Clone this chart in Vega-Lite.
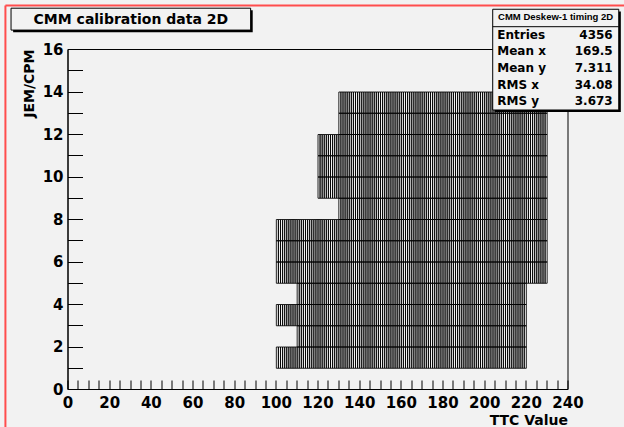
{
"$schema": "https://vega.github.io/schema/vega-lite/v6.json",
"width": 500, "height": 340,
"autosize": "none",
"padding": {"left": 67.5, "top": 49, "right": 56.5, "bottom": 38},
"background": "#f2f2f2",
"config": {
 "view": {"stroke": "#000", "strokeWidth": 1, "fill": "#f2f2f2"},
 "axis": {"domainColor": "#000", "tickColor": "#000", "labelColor": "#000", "titleColor": "#000", "grid": false,
  "labelFont": "DejaVu Sans", "labelFontWeight": "bold", "labelFontSize": 15,
  "titleFont": "DejaVu Sans", "titleFontWeight": "bold", "titleFontSize": 14,
  "labelOverlap": false, "labelFlush": false, "titleAnchor": "end"}
},
"layer": [
 {
  "data": {"values": "x,y\n100,1\n101,1\n102,1\n103,1\n104,1\n105,1\n106,1\n107,1\n108,1\n109,1\n110,1\n111,1\n112,1\n113,1\n114,1\n115,1\n116,1\n117,1\n118,1\n119,1\n120,1\n121,1\n122,1\n123,1\n124,1\n125,1\n126,1\n127,1\n128,1\n129,1\n130,1\n131,1\n132,1\n133,1\n134,1\n135,1\n136,1\n137,1\n138,1\n139,1\n140,1\n141,1\n142,1\n143,1\n144,1\n145,1\n146,1\n147,1\n148,1\n149,1\n150,1\n151,1\n152,1\n153,1\n154,1\n155,1\n156,1\n157,1\n158,1\n159,1\n160,1\n161,1\n162,1\n163,1\n164,1\n165,1\n166,1\n167,1\n168,1\n169,1\n170,1\n171,1\n172,1\n173,1\n174,1\n175,1\n176,1\n177,1\n178,1\n179,1\n180,1\n181,1\n182,1\n183,1\n184,1\n185,1\n186,1\n187,1\n188,1\n189,1\n190,1\n191,1\n192,1\n193,1\n194,1\n195,1\n196,1\n197,1\n198,1\n199,1\n200,1\n201,1\n202,1\n203,1\n204,1\n205,1\n206,1\n207,1\n208,1\n209,1\n210,1\n211,1\n212,1\n213,1\n214,1\n215,1\n216,1\n217,1\n218,1\n219,1\n110,2\n111,2\n112,2\n113,2\n114,2\n115,2\n116,2\n117,2\n118,2\n119,2\n120,2\n121,2\n122,2\n123,2\n124,2\n125,2\n126,2\n127,2\n128,2\n129,2\n130,2\n131,2\n132,2\n133,2\n134,2\n135,2\n136,2\n137,2\n138,2\n139,2\n140,2\n141,2\n142,2\n143,2\n144,2\n145,2\n146,2\n147,2\n148,2\n149,2\n150,2\n151,2\n152,2\n153,2\n154,2\n155,2\n156,2\n157,2\n158,2\n159,2\n160,2\n161,2\n162,2\n163,2\n164,2\n165,2\n166,2\n167,2\n168,2\n169,2\n170,2\n171,2\n172,2\n173,2\n174,2\n175,2\n176,2\n177,2\n178,2\n179,2\n180,2\n181,2\n182,2\n183,2\n184,2\n185,2\n186,2\n187,2\n188,2\n189,2\n190,2\n191,2\n192,2\n193,2\n194,2\n195,2\n196,2\n197,2\n198,2\n199,2\n200,2\n201,2\n202,2\n203,2\n204,2\n205,2\n206,2\n207,2\n208,2\n209,2\n210,2\n211,2\n212,2\n213,2\n214,2\n215,2\n216,2\n217,2\n218,2\n219,2\n100,3\n101,3\n102,3\n103,3\n104,3\n105,3\n106,3\n107,3\n108,3\n109,3\n110,3\n111,3\n112,3\n113,3\n114,3\n115,3\n116,3\n117,3\n118,3\n119,3\n120,3\n121,3\n122,3\n123,3\n124,3\n125,3\n126,3\n127,3\n128,3\n129,3\n130,3\n131,3\n132,3\n133,3\n134,3\n135,3\n136,3\n137,3\n138,3\n139,3\n140,3\n141,3\n142,3\n143,3\n144,3\n145,3\n146,3\n147,3\n148,3\n149,3\n150,3\n151,3\n152,3\n153,3\n154,3\n155,3\n156,3\n157,3\n158,3\n159,3\n160,3\n161,3\n162,3\n163,3\n164,3\n165,3\n166,3\n167,3\n168,3\n169,3\n170,3\n171,3\n172,3\n173,3\n174,3\n175,3\n176,3\n177,3\n178,3\n179,3\n180,3\n181,3\n182,3\n183,3\n184,3\n185,3\n186,3\n187,3\n188,3\n189,3\n190,3\n191,3\n192,3\n193,3\n194,3\n195,3\n196,3\n197,3\n198,3\n199,3\n200,3\n201,3\n202,3\n203,3\n204,3\n205,3\n206,3\n207,3\n208,3\n209,3\n210,3\n211,3\n212,3\n213,3\n214,3\n215,3\n216,3\n217,3\n218,3\n219,3\n110,4\n111,4\n112,4\n113,4\n114,4\n115,4\n116,4\n117,4\n118,4\n119,4\n120,4\n121,4\n122,4\n123,4\n124,4\n125,4\n126,4\n127,4\n128,4\n129,4\n130,4\n131,4\n132,4\n133,4\n134,4\n135,4\n136,4\n137,4\n138,4\n139,4\n140,4\n141,4\n142,4\n143,4\n144,4\n145,4\n146,4\n147,4\n148,4\n149,4\n150,4\n151,4\n152,4\n153,4\n154,4\n155,4\n156,4\n157,4\n158,4\n159,4\n160,4\n161,4\n162,4\n163,4\n164,4\n165,4\n166,4\n167,4\n168,4\n169,4\n170,4\n171,4\n172,4\n173,4\n174,4\n175,4\n176,4\n177,4\n178,4\n179,4\n180,4\n181,4\n182,4\n183,4\n184,4\n185,4\n186,4\n187,4\n188,4\n189,4\n190,4\n191,4\n192,4\n193,4\n194,4\n195,4\n196,4\n197,4\n198,4\n199,4\n200,4\n201,4\n202,4\n203,4\n204,4\n205,4\n206,4\n207,4\n208,4\n209,4\n210,4\n211,4\n212,4\n213,4\n214,4\n215,4\n216,4\n217,4\n218,4\n219,4\n100,5\n101,5\n102,5\n103,5\n104,5\n105,5\n106,5\n107,5\n108,5\n109,5\n110,5\n111,5\n112,5\n113,5\n114,5\n115,5\n116,5\n117,5\n118,5\n119,5\n120,5\n121,5\n122,5\n123,5\n124,5\n125,5\n126,5\n127,5\n128,5\n129,5\n130,5\n131,5\n132,5\n133,5\n134,5\n135,5\n136,5\n137,5\n138,5\n139,5\n140,5\n141,5\n142,5\n143,5\n144,5\n145,5\n146,5\n147,5\n148,5\n149,5\n150,5\n151,5\n152,5\n153,5\n154,5\n155,5\n156,5\n157,5\n158,5\n159,5\n160,5\n161,5\n162,5\n163,5\n164,5\n165,5\n166,5\n167,5\n168,5\n169,5\n170,5\n171,5\n172,5\n173,5\n174,5\n175,5\n176,5\n177,5\n178,5\n179,5\n180,5\n181,5\n182,5\n183,5\n184,5\n185,5\n186,5\n187,5\n188,5\n189,5\n190,5\n191,5\n192,5\n193,5\n194,5\n195,5\n196,5\n197,5\n198,5\n199,5\n200,5\n201,5\n202,5\n203,5\n204,5\n205,5\n206,5\n207,5\n208,5\n209,5\n210,5\n211,5\n212,5\n213,5\n214,5\n215,5\n216,5\n217,5\n218,5\n219,5\n220,5\n221,5\n222,5\n223,5\n224,5\n225,5\n226,5\n227,5\n228,5\n229,5\n100,6\n101,6\n102,6\n103,6\n104,6\n105,6\n106,6\n107,6\n108,6\n109,6\n110,6\n111,6\n112,6\n113,6\n114,6\n115,6\n116,6\n117,6\n118,6\n119,6\n120,6\n121,6\n122,6\n123,6\n124,6\n125,6\n126,6\n127,6\n128,6\n129,6\n130,6\n131,6\n132,6\n133,6\n134,6\n135,6\n136,6\n137,6\n138,6\n139,6\n140,6\n141,6\n142,6\n143,6\n144,6\n145,6\n146,6\n147,6\n148,6\n149,6\n150,6\n151,6\n152,6\n153,6\n154,6\n155,6\n156,6\n157,6\n158,6\n159,6\n160,6\n161,6\n162,6\n163,6\n164,6\n165,6\n166,6\n167,6\n168,6\n169,6\n170,6\n171,6\n172,6\n173,6\n174,6\n175,6\n176,6\n177,6\n178,6\n179,6\n180,6\n181,6\n182,6\n183,6\n184,6\n185,6\n186,6\n187,6\n188,6\n189,6\n190,6\n191,6\n192,6\n193,6\n194,6\n195,6\n196,6\n197,6\n198,6\n199,6\n200,6\n201,6\n202,6\n203,6\n204,6\n205,6\n206,6\n207,6\n208,6\n209,6\n210,6\n211,6\n212,6\n213,6\n214,6\n215,6\n216,6\n217,6\n218,6\n219,6\n220,6\n221,6\n222,6\n223,6\n224,6\n225,6\n226,6\n227,6\n228,6\n229,6\n100,7\n101,7\n102,7\n103,7\n104,7\n105,7\n106,7\n107,7\n108,7\n109,7\n110,7\n111,7\n112,7\n113,7\n114,7\n115,7\n116,7\n117,7\n118,7\n119,7\n120,7\n121,7\n122,7\n123,7\n124,7\n125,7\n126,7\n127,7\n128,7\n129,7\n130,7\n131,7\n132,7\n133,7\n134,7\n135,7\n136,7\n137,7\n138,7\n139,7\n140,7\n141,7\n142,7\n143,7\n144,7\n145,7\n146,7\n147,7\n148,7\n149,7\n150,7\n151,7\n152,7\n153,7\n154,7\n155,7\n156,7\n157,7\n158,7\n159,7\n160,7\n161,7\n162,7\n163,7\n164,7\n165,7\n166,7\n167,7\n168,7\n169,7\n170,7\n171,7\n172,7\n173,7\n174,7\n175,7\n176,7\n177,7\n178,7\n179,7\n180,7\n181,7\n182,7\n183,7\n184,7\n185,7\n186,7\n187,7\n188,7\n189,7\n190,7\n191,7\n192,7\n193,7\n194,7\n195,7\n196,7\n197,7\n198,7\n199,7\n200,7\n201,7\n202,7\n203,7\n204,7\n205,7\n206,7\n207,7\n208,7\n209,7\n210,7\n211,7\n212,7\n213,7\n214,7\n215,7\n216,7\n217,7\n218,7\n219,7\n220,7\n221,7\n222,7\n223,7\n224,7\n225,7\n226,7\n227,7\n228,7\n229,7\n130,8\n131,8\n132,8\n133,8\n134,8\n135,8\n136,8\n137,8\n138,8\n139,8\n140,8\n141,8\n142,8\n143,8\n144,8\n145,8\n146,8\n147,8\n148,8\n149,8\n150,8\n151,8\n152,8\n153,8\n154,8\n155,8\n156,8\n157,8\n158,8\n159,8\n160,8\n161,8\n162,8\n163,8\n164,8\n165,8\n166,8\n167,8\n168,8\n169,8\n170,8\n171,8\n172,8\n173,8\n174,8\n175,8\n176,8\n177,8\n178,8\n179,8\n180,8\n181,8\n182,8\n183,8\n184,8\n185,8\n186,8\n187,8\n188,8\n189,8\n190,8\n191,8\n192,8\n193,8\n194,8\n195,8\n196,8\n197,8\n198,8\n199,8\n200,8\n201,8\n202,8\n203,8\n204,8\n205,8\n206,8\n207,8\n208,8\n209,8\n210,8\n211,8\n212,8\n213,8\n214,8\n215,8\n216,8\n217,8\n218,8\n219,8\n220,8\n221,8\n222,8\n223,8\n224,8\n225,8\n226,8\n227,8\n228,8\n229,8\n120,9\n121,9\n122,9\n123,9\n124,9\n125,9\n126,9\n127,9\n128,9\n129,9\n130,9\n131,9\n132,9\n133,9\n134,9\n135,9\n136,9\n137,9\n138,9\n139,9\n140,9\n141,9\n142,9\n143,9\n144,9\n145,9\n146,9\n147,9\n148,9\n149,9\n150,9\n151,9\n152,9\n153,9\n154,9\n155,9\n156,9\n157,9\n158,9\n159,9\n160,9\n161,9\n162,9\n163,9\n164,9\n165,9\n166,9\n167,9\n168,9\n169,9\n170,9\n171,9\n172,9\n173,9\n174,9\n175,9\n176,9\n177,9\n178,9\n179,9\n180,9\n181,9\n182,9\n183,9\n184,9\n185,9\n186,9\n187,9\n188,9\n189,9\n190,9\n191,9\n192,9\n193,9\n194,9\n195,9\n196,9\n197,9\n198,9\n199,9\n200,9\n201,9\n202,9\n203,9\n204,9\n205,9\n206,9\n207,9\n208,9\n209,9\n210,9\n211,9\n212,9\n213,9\n214,9\n215,9\n216,9\n217,9\n218,9\n219,9\n220,9\n221,9\n222,9\n223,9\n224,9\n225,9\n226,9\n227,9\n228,9\n229,9\n120,10\n121,10\n122,10\n123,10\n124,10\n125,10\n126,10\n127,10\n128,10\n129,10\n130,10\n131,10\n132,10\n133,10\n134,10\n135,10\n136,10\n137,10\n138,10\n139,10\n140,10\n141,10\n142,10\n143,10\n144,10\n145,10\n146,10\n147,10\n148,10\n149,10\n150,10\n151,10\n152,10\n153,10\n154,10\n155,10\n156,10\n157,10\n158,10\n159,10\n160,10\n161,10\n162,10\n163,10\n164,10\n165,10\n166,10\n167,10\n168,10\n169,10\n170,10\n171,10\n172,10\n173,10\n174,10\n175,10\n176,10\n177,10\n178,10\n179,10\n180,10\n181,10\n182,10\n183,10\n184,10\n185,10\n186,10\n187,10\n188,10\n189,10\n190,10\n191,10\n192,10\n193,10\n194,10\n195,10\n196,10\n197,10\n198,10\n199,10\n200,10\n201,10\n202,10\n203,10\n204,10\n205,10\n206,10\n207,10\n208,10\n209,10\n210,10\n211,10\n212,10\n213,10\n214,10\n215,10\n216,10\n217,10\n218,10\n219,10\n220,10\n221,10\n222,10\n223,10\n224,10\n225,10\n226,10\n227,10\n228,10\n229,10\n120,11\n121,11\n122,11\n123,11\n124,11\n125,11\n126,11\n127,11\n128,11\n129,11\n130,11\n131,11\n132,11\n133,11\n134,11\n135,11\n136,11\n137,11\n138,11\n139,11\n140,11\n141,11\n142,11\n143,11\n144,11\n145,11\n146,11\n147,11\n148,11\n149,11\n150,11\n151,11\n152,11\n153,11\n154,11\n155,11\n156,11\n157,11\n158,11\n159,11\n160,11\n161,11\n162,11\n163,11\n164,11\n165,11\n166,11\n167,11\n168,11\n169,11\n170,11\n171,11\n172,11\n173,11\n174,11\n175,11\n176,11\n177,11\n178,11\n179,11\n180,11\n181,11\n182,11\n183,11\n184,11\n185,11\n186,11\n187,11\n188,11\n189,11\n190,11\n191,11\n192,11\n193,11\n194,11\n195,11\n196,11\n197,11\n198,11\n199,11\n200,11\n201,11\n202,11\n203,11\n204,11\n205,11\n206,11\n207,11\n208,11\n209,11\n210,11\n211,11\n212,11\n213,11\n214,11\n215,11\n216,11\n217,11\n218,11\n219,11\n220,11\n221,11\n222,11\n223,11\n224,11\n225,11\n226,11\n227,11\n228,11\n229,11\n130,12\n131,12\n132,12\n133,12\n134,12\n135,12\n136,12\n137,12\n138,12\n139,12\n140,12\n141,12\n142,12\n143,12\n144,12\n145,12\n146,12\n147,12\n148,12\n149,12\n150,12\n151,12\n152,12\n153,12\n154,12\n155,12\n156,12\n157,12\n158,12\n159,12\n160,12\n161,12\n162,12\n163,12\n164,12\n165,12\n166,12\n167,12\n168,12\n169,12\n170,12\n171,12\n172,12\n173,12\n174,12\n175,12\n176,12\n177,12\n178,12\n179,12\n180,12\n181,12\n182,12\n183,12\n184,12\n185,12\n186,12\n187,12\n188,12\n189,12\n190,12\n191,12\n192,12\n193,12\n194,12\n195,12\n196,12\n197,12\n198,12\n199,12\n200,12\n201,12\n202,12\n203,12\n204,12\n205,12\n206,12\n207,12\n208,12\n209,12\n210,12\n211,12\n212,12\n213,12\n214,12\n215,12\n216,12\n217,12\n218,12\n219,12\n220,12\n221,12\n222,12\n223,12\n224,12\n225,12\n226,12\n227,12\n228,12\n229,12\n130,13\n131,13\n132,13\n133,13\n134,13\n135,13\n136,13\n137,13\n138,13\n139,13\n140,13\n141,13\n142,13\n143,13\n144,13\n145,13\n146,13\n147,13\n148,13\n149,13\n150,13\n151,13\n152,13\n153,13\n154,13\n155,13\n156,13\n157,13\n158,13\n159,13\n160,13\n161,13\n162,13\n163,13\n164,13\n165,13\n166,13\n167,13\n168,13\n169,13\n170,13\n171,13\n172,13\n173,13\n174,13\n175,13\n176,13\n177,13\n178,13\n179,13\n180,13\n181,13\n182,13\n183,13\n184,13\n185,13\n186,13\n187,13\n188,13\n189,13\n190,13\n191,13\n192,13\n193,13\n194,13\n195,13\n196,13\n197,13\n198,13\n199,13\n200,13\n201,13\n202,13\n203,13\n204,13\n205,13\n206,13\n207,13\n208,13\n209,13\n210,13\n211,13\n212,13\n213,13\n214,13\n215,13\n216,13\n217,13\n218,13\n219,13\n220,13\n221,13\n222,13\n223,13\n224,13\n225,13\n226,13\n227,13\n228,13\n229,13\n", "format": {"type": "csv", "parse": {"x": "number", "y": "number"}}},
  "mark": {"type": "rect", "fillOpacity": 0, "stroke": "#000", "strokeWidth": 0.85, "binSpacing": 0},
  "encoding": {
   "x": {"field": "x", "type": "quantitative", "bin": {"binned": true, "step": 1},
    "scale": {"domain": [0, 240], "nice": false, "zero": false},
    "axis": {"title": "TTC Value", "format": "d",
     "values": [0,5,10,15,20,25,30,35,40,45,50,55,60,65,70,75,80,85,90,95,100,105,110,115,120,125,130,135,140,145,150,155,160,165,170,175,180,185,190,195,200,205,210,215,220,225,230,235,240],
     "labelExpr": "datum.value % 20 === 0 ? datum.label : ''",
     "tickSize": -9,
     "encode": {"ticks": {"update": {"y2": {"signal": "datum.value % 20 === 0 ? -9 : -5"}}}},
     "labelPadding": 15, "titlePadding": 3}},
   "y": {"field": "y", "type": "quantitative", "bin": {"binned": true, "step": 1},
    "scale": {"domain": [0, 16], "nice": false, "zero": false},
    "axis": {"title": "JEM/CPM", "format": "d",
     "values": [0,0.5,1,1.5,2,2.5,3,3.5,4,4.5,5,5.5,6,6.5,7,7.5,8,8.5,9,9.5,10,10.5,11,11.5,12,12.5,13,13.5,14,14.5,15,15.5,16],
     "labelExpr": "datum.value % 2 === 0 ? datum.label : ''",
     "tickSize": -15,
     "encode": {"ticks": {"update": {"x2": {"signal": "datum.value % 2 === 0 ? 15 : 7.5"}}}},
     "labelPadding": 19.5, "titlePadding": 6}}
  }
 },
 {"data": {"values": [{}]}, "mark": {"type": "rect", "fill": "#000"},
  "encoding": {"x": {"datum": -26.1}, "x2": {"datum": 88.9}, "y": {"datum": 17.82}, "y2": {"datum": 16.79}}},
 {"data": {"values": [{}]}, "mark": {"type": "rect", "fill": "#f2f2f2", "stroke": "#000", "strokeWidth": 1},
  "encoding": {"x": {"datum": -27.1}, "x2": {"datum": 87.9}, "y": {"datum": 17.92}, "y2": {"datum": 16.89}}},
 {"data": {"values": [{}]}, "mark": {"type": "text", "text": "CMM calibration data 2D", "font": "DejaVu Sans", "fontWeight": "bold", "fontSize": 14, "align": "center", "baseline": "middle", "color": "#000"},
  "encoding": {"x": {"datum": 30.4}, "y": {"datum": 17.38}}},
 {"data": {"values": [{}]}, "mark": {"type": "rect", "fill": "#000"},
  "encoding": {"x": {"datum": 205.1}, "x2": {"datum": 265.6}, "y": {"datum": 17.77}, "y2": {"datum": 13.03}}},
 {"data": {"values": [{}]}, "mark": {"type": "rect", "fill": "#f2f2f2", "stroke": "#000", "strokeWidth": 1},
  "encoding": {"x": {"datum": 204.1}, "x2": {"datum": 264.6}, "y": {"datum": 17.87}, "y2": {"datum": 13.13}}},
 {"data": {"values": [{}]}, "mark": {"type": "rule", "color": "#000", "strokeWidth": 1},
  "encoding": {"x": {"datum": 204.1}, "x2": {"datum": 264.6}, "y": {"datum": 17.05}}},
 {"data": {"values": [{}]}, "mark": {"type": "text", "text": "CMM Deskew-1 timing 2D", "font": "Liberation Sans", "fontWeight": "bold", "fontSize": 9.5, "align": "center", "baseline": "middle", "color": "#000"},
  "encoding": {"x": {"datum": 234.3}, "y": {"datum": 17.49}}},
 {"data": {"values": [{}]}, "mark": {"type": "text", "text": ["Entries", "Mean x", "Mean y", "RMS x", "RMS y"], "lineHeight": 16.6, "font": "DejaVu Sans", "fontWeight": "bold", "fontSize": 12, "align": "left", "baseline": "middle", "color": "#000"},
  "encoding": {"x": {"datum": 206.3}, "y": {"datum": 16.67}}},
 {"data": {"values": [{}]}, "mark": {"type": "text", "text": ["4356", "169.5", "7.311", "34.08", "3.673"], "lineHeight": 16.6, "font": "DejaVu Sans", "fontWeight": "bold", "fontSize": 12, "align": "right", "baseline": "middle", "color": "#000"},
  "encoding": {"x": {"datum": 261.7}, "y": {"datum": 16.67}}},
 {"data": {"values": [{}]}, "mark": {"type": "rule", "color": "#ff4d4d", "strokeWidth": 2},
  "encoding": {"x": {"datum": -29.8}, "y": {"datum": 18.05}, "y2": {"datum": -2}}},
 {"data": {"values": [{}]}, "mark": {"type": "rule", "color": "#ff4d4d", "strokeWidth": 2},
  "encoding": {"x": {"datum": -29.8}, "x2": {"datum": 270}, "y": {"datum": 18.05}}}
]
}
